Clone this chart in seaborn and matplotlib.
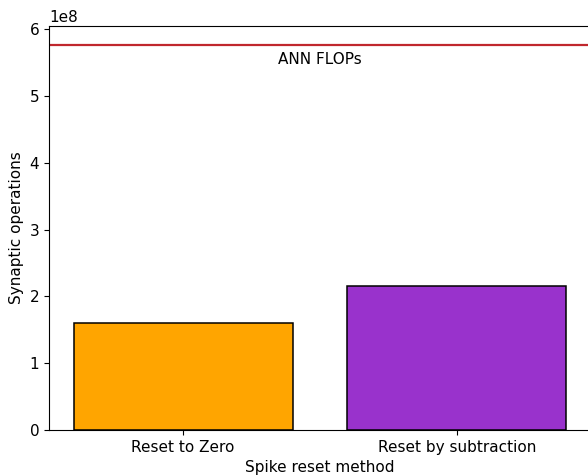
import pandas as pd
import seaborn as sns
import matplotlib
matplotlib.use("Agg")
import matplotlib.pyplot as plt

plt.rcParams["font.size"] = 11

methods = ["Reset to Zero", "Reset by subtraction"]
syn_ops = [1.60e8, 2.16e8]
bar_colors = ["orange", "darkorchid"]
ann_flops = 5.76e8

df = pd.DataFrame({"method": methods, "ops": syn_ops})

fig = plt.figure(figsize=(5.88, 4.75), dpi=100)
ax = fig.add_axes([49 / 588, 45 / 475, 542 / 588, 404 / 475])

sns.barplot(
    data=df, x="method", y="ops", hue="method",
    palette=bar_colors, saturation=1, width=0.8,
    edgecolor="black", linewidth=1.1, legend=False, ax=ax,
)

ax.axhline(ann_flops, color="#c0272d", linewidth=1.6)
ax.text(0.5, ann_flops - 0.21e8, "ANN FLOPs", ha="center", va="center")

ax.set_xlim(-0.49, 1.49)
ax.set_ylim(0, 6.05e8)
ax.set_xlabel("Spike reset method")
ax.set_ylabel("Synaptic operations")

plt.savefig("out.png", dpi=100)
